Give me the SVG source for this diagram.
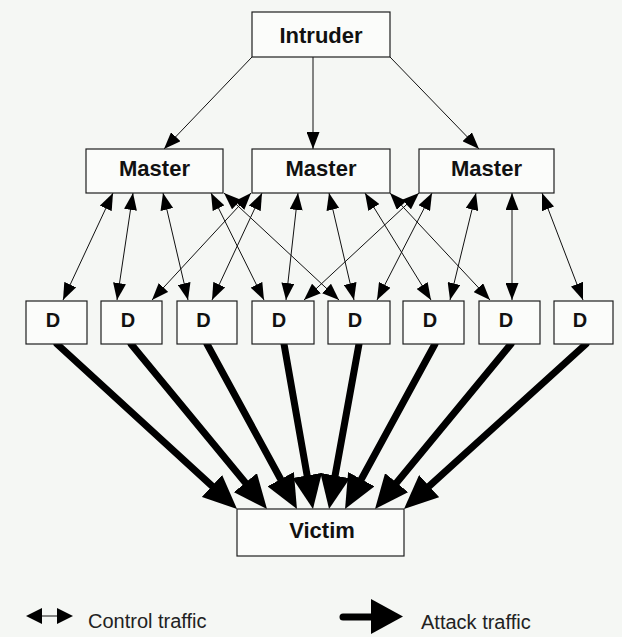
<svg xmlns="http://www.w3.org/2000/svg" width="622" height="637" viewBox="0 0 622 637">
<style>
.box{fill:#fbfcfa;stroke:#1e1e1e;stroke-width:1.2}
.lbl{font-family:"Liberation Sans",Arial,sans-serif;font-weight:bold;fill:#111;text-anchor:middle}
.ctl{stroke:#111;stroke-width:1;fill:none}
.atk{stroke:#000;stroke-width:7;fill:none;stroke-linecap:round}
.leg{font-family:"Liberation Sans",Arial,sans-serif;font-size:20px;fill:#222}
</style>
<defs>
<marker id="thin" viewBox="0 0 17 13" refX="17" refY="6.5" markerWidth="17" markerHeight="13" markerUnits="userSpaceOnUse" orient="auto-start-reverse">
<path d="M0,0 L17,6.5 L0,13 z" fill="#000"/>
</marker>
<marker id="thick" viewBox="-4 -15 34 30" refX="0" refY="0" markerWidth="34" markerHeight="30" markerUnits="userSpaceOnUse" orient="auto">
<path d="M-4,-15 L30,0 L-4,15 z" fill="#000"/>
</marker>
</defs>
<rect x="0" y="0" width="622" height="637" fill="#f5f7f4"/>

<g id="connectors">
<g id="intruder-links">
<line class="ctl" x1="252" y1="57" x2="164" y2="149" marker-end="url(#thin)"/>
<line class="ctl" x1="313" y1="57" x2="313" y2="149" marker-end="url(#thin)"/>
<line class="ctl" x1="390" y1="57" x2="479" y2="149" marker-end="url(#thin)"/>
</g>
<g id="control-links">
<line class="ctl" x1="113" y1="193" x2="63" y2="300" marker-start="url(#thin)" marker-end="url(#thin)"/>
<line class="ctl" x1="133" y1="193" x2="117" y2="300" marker-start="url(#thin)" marker-end="url(#thin)"/>
<line class="ctl" x1="163" y1="193" x2="188" y2="300" marker-start="url(#thin)" marker-end="url(#thin)"/>
<line class="ctl" x1="211" y1="193" x2="264" y2="300" marker-start="url(#thin)" marker-end="url(#thin)"/>
<line class="ctl" x1="224" y1="193" x2="339" y2="300" marker-start="url(#thin)" marker-end="url(#thin)"/>
<line class="ctl" x1="251" y1="193" x2="152" y2="300" marker-start="url(#thin)" marker-end="url(#thin)"/>
<line class="ctl" x1="262" y1="193" x2="212" y2="300" marker-start="url(#thin)" marker-end="url(#thin)"/>
<line class="ctl" x1="298" y1="193" x2="286" y2="300" marker-start="url(#thin)" marker-end="url(#thin)"/>
<line class="ctl" x1="329" y1="193" x2="354" y2="300" marker-start="url(#thin)" marker-end="url(#thin)"/>
<line class="ctl" x1="365" y1="193" x2="431" y2="300" marker-start="url(#thin)" marker-end="url(#thin)"/>
<line class="ctl" x1="390" y1="193" x2="490" y2="300" marker-start="url(#thin)" marker-end="url(#thin)"/>
<line class="ctl" x1="419" y1="193" x2="304" y2="300" marker-start="url(#thin)" marker-end="url(#thin)"/>
<line class="ctl" x1="432" y1="193" x2="377" y2="300" marker-start="url(#thin)" marker-end="url(#thin)"/>
<line class="ctl" x1="476" y1="193" x2="450" y2="300" marker-start="url(#thin)" marker-end="url(#thin)"/>
<line class="ctl" x1="512" y1="193" x2="512" y2="300" marker-start="url(#thin)" marker-end="url(#thin)"/>
<line class="ctl" x1="542" y1="193" x2="583" y2="300" marker-start="url(#thin)" marker-end="url(#thin)"/>
</g>
<g id="attack-links">
<line class="atk" x1="57" y1="344" x2="214.9" y2="488.7" marker-end="url(#thick)"/>
<line class="atk" x1="131" y1="344" x2="247.9" y2="485.8" marker-end="url(#thick)"/>
<line class="atk" x1="207" y1="344" x2="282.6" y2="482.7" marker-end="url(#thick)"/>
<line class="atk" x1="284" y1="344" x2="307.8" y2="479.4" marker-end="url(#thick)"/>
<line class="atk" x1="359" y1="344" x2="334.4" y2="479.5" marker-end="url(#thick)"/>
<line class="atk" x1="435" y1="344" x2="359.4" y2="482.7" marker-end="url(#thick)"/>
<line class="atk" x1="511" y1="344" x2="394.1" y2="485.8" marker-end="url(#thick)"/>
<line class="atk" x1="586" y1="344" x2="426.2" y2="488.8" marker-end="url(#thick)"/>
</g>
</g>

<g id="intruder"><rect class="box" x="252" y="12" width="138" height="45"/><text class="lbl" x="321" y="43" font-size="22">Intruder</text></g>
<g id="master1"><rect class="box" x="86" y="149" width="137" height="44"/><text class="lbl" x="154.5" y="176" font-size="22">Master</text></g>
<g id="master2"><rect class="box" x="252" y="149" width="138" height="44"/><text class="lbl" x="321" y="176" font-size="22">Master</text></g>
<g id="master3"><rect class="box" x="419" y="149" width="135" height="44"/><text class="lbl" x="486.5" y="176" font-size="22">Master</text></g>

<g id="d1"><rect class="box" x="26" y="301" width="61" height="43"/><text class="lbl" x="53" y="327" font-size="20">D</text></g>
<g id="d2"><rect class="box" x="101" y="301" width="61" height="43"/><text class="lbl" x="128" y="327" font-size="20">D</text></g>
<g id="d3"><rect class="box" x="177" y="301" width="60" height="43"/><text class="lbl" x="203.5" y="327" font-size="20">D</text></g>
<g id="d4"><rect class="box" x="252" y="301" width="62" height="43"/><text class="lbl" x="279" y="327" font-size="20">D</text></g>
<g id="d5"><rect class="box" x="328" y="301" width="62" height="43"/><text class="lbl" x="355" y="327" font-size="20">D</text></g>
<g id="d6"><rect class="box" x="403" y="301" width="61" height="43"/><text class="lbl" x="430" y="327" font-size="20">D</text></g>
<g id="d7"><rect class="box" x="479" y="301" width="61" height="43"/><text class="lbl" x="506" y="327" font-size="20">D</text></g>
<g id="d8"><rect class="box" x="554" y="301" width="59" height="43"/><text class="lbl" x="580" y="327" font-size="20">D</text></g>

<g id="victim"><rect class="box" x="237" y="509" width="167" height="47"/><text class="lbl" x="322" y="538" font-size="22">Victim</text></g>

<g id="legend">
<line class="ctl" x1="40" y1="616" x2="58" y2="616"/>
<path d="M26,616 L42,608 L42,624 z" fill="#000"/>
<path d="M73,616 L57,608 L57,624 z" fill="#000"/>
<text class="leg" x="88" y="628">Control traffic</text>
<line class="atk" x1="343" y1="617" x2="374" y2="617"/>
<path d="M371,599 L403,616.5 L371,634 z" fill="#000"/>
<text class="leg" x="421" y="629">Attack traffic</text>
</g>
</svg>
